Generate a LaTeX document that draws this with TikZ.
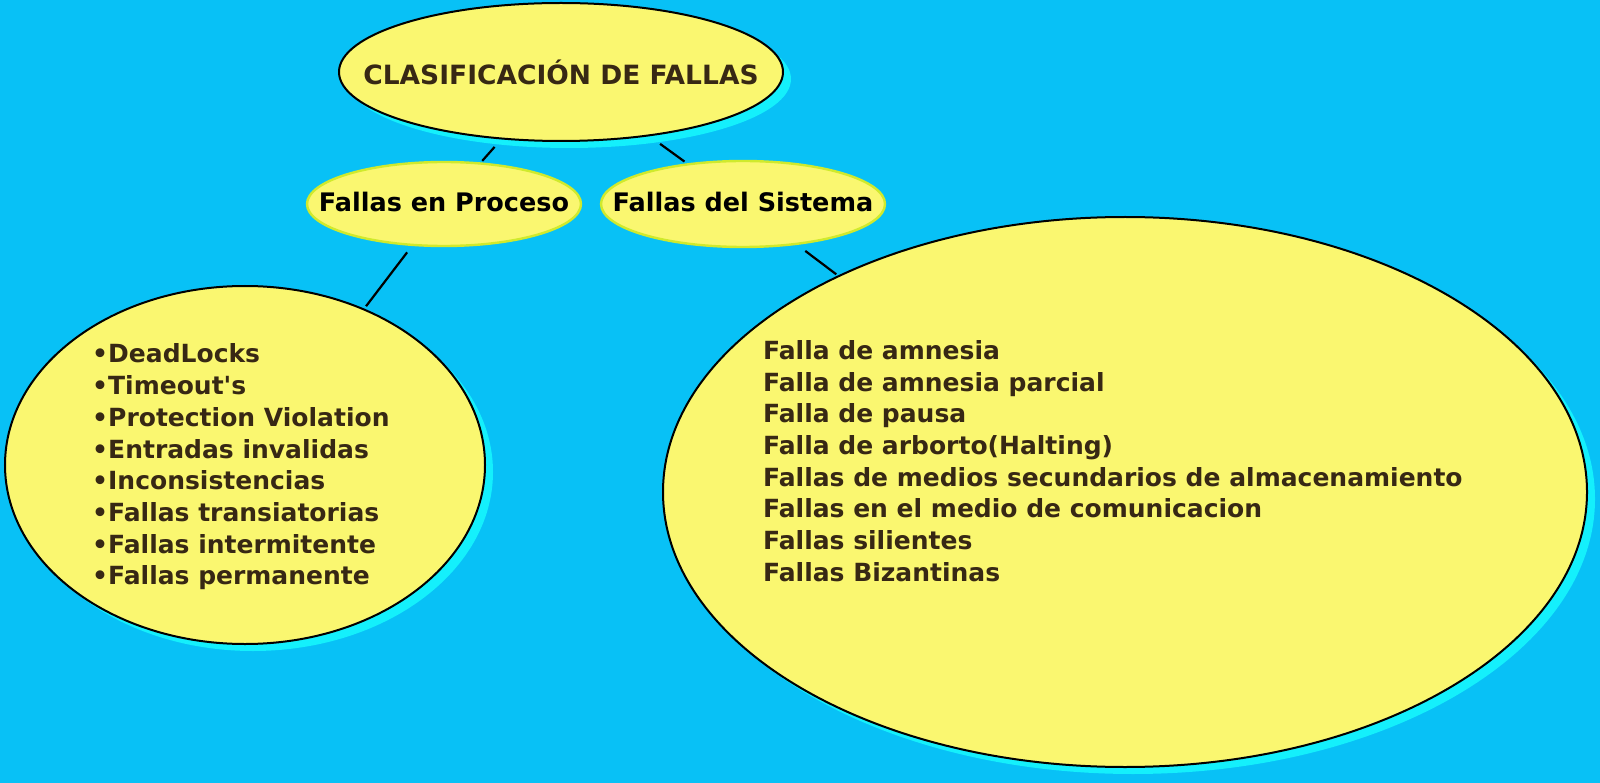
\documentclass[tikz,border=0pt]{standalone}
\usepackage{fontspec}
\setmainfont{DejaVu Sans}
\usepackage{tikz}
\usepackage{xcolor}
\usetikzlibrary{shapes.geometric,shadows}

\definecolor{fondo}{RGB}{8,193,246}
\definecolor{amarillo}{RGB}{250,247,112}
\definecolor{sombra}{RGB}{20,240,252}
\definecolor{bordemedio}{RGB}{208,234,44}
\definecolor{marron}{RGB}{55,40,20}

\begin{document}
\begin{tikzpicture}[x=1pt,y=-1pt,
  elipse/.style={ellipse,fill=amarillo,inner sep=0pt},
  grande/.style={elipse,draw=black,line width=2pt,
    drop shadow={shadow xshift=8pt,shadow yshift=-7pt,fill=sombra,opacity=1}},
  media/.style={elipse,draw=bordemedio,line width=2.4pt},
  rama/.style={line width=2.2pt},
  titulo/.style={font=\fontsize{26.5}{30}\selectfont\bfseries,text=marron,inner sep=0pt},
  etiqueta/.style={font=\fontsize{25.5}{30}\selectfont\bfseries,text=black,inner sep=0pt},
  lista/.style={font=\fontsize{25}{31.7}\selectfont\bfseries,text=marron,align=left,inner sep=0pt}]
\useasboundingbox (0,0) rectangle (1600,783);
\fill[fondo] (0,0) rectangle (1600,783);

% elipses
\node[grande,minimum width=444pt,minimum height=138pt] (tit) at (561,72) {};
\node[media,minimum width=274pt,minimum height=84pt] (proc) at (444,204) {};
\node[media,minimum width=284pt,minimum height=86pt] (sis) at (743,204) {};
\node[grande,minimum width=480pt,minimum height=358pt] (izq) at (245,465) {};
\node[grande,minimum width=924pt,minimum height=550pt] (der) at (1125,492) {};

% textos
\node[titulo,anchor=base] (ttit) at (561,85) {CLASIFICACIÓN DE FALLAS};
\node[etiqueta,anchor=base] (tproc) at (444,212) {Fallas en Proceso};
\node[etiqueta,anchor=base] (tsis) at (743,212) {Fallas del Sistema};
\node[lista,anchor=west] (lizq) at (92,467) {%
  •DeadLocks\\ •Timeout\textquotesingle s\\ •Protection Violation\\ •Entradas invalidas\\
  •Inconsistencias\\ •Fallas transiatorias\\ •Fallas intermitente\\ •Fallas permanente};
\node[lista,anchor=west] (lder) at (763,461) {%
  Falla de amnesia\\ Falla de amnesia parcial\\ Falla de pausa\\
  Falla de arborto(Halting)\\ Fallas de medios secundarios de almacenamiento\\
  Fallas en el medio de comunicacion\\ Fallas silientes\\ Fallas Bizantinas};

% ramas
\draw[rama,shorten <=10pt,shorten >=2pt] (tit) -- (proc);
\draw[rama,shorten <=13pt,shorten >=3pt] (tit) -- (sis);
\draw[rama,shorten <=8pt,shorten >=3pt] (proc) -- (izq);
\draw[rama,shorten <=10pt,shorten >=2pt] (sis) -- (der);
\end{tikzpicture}
\end{document}
